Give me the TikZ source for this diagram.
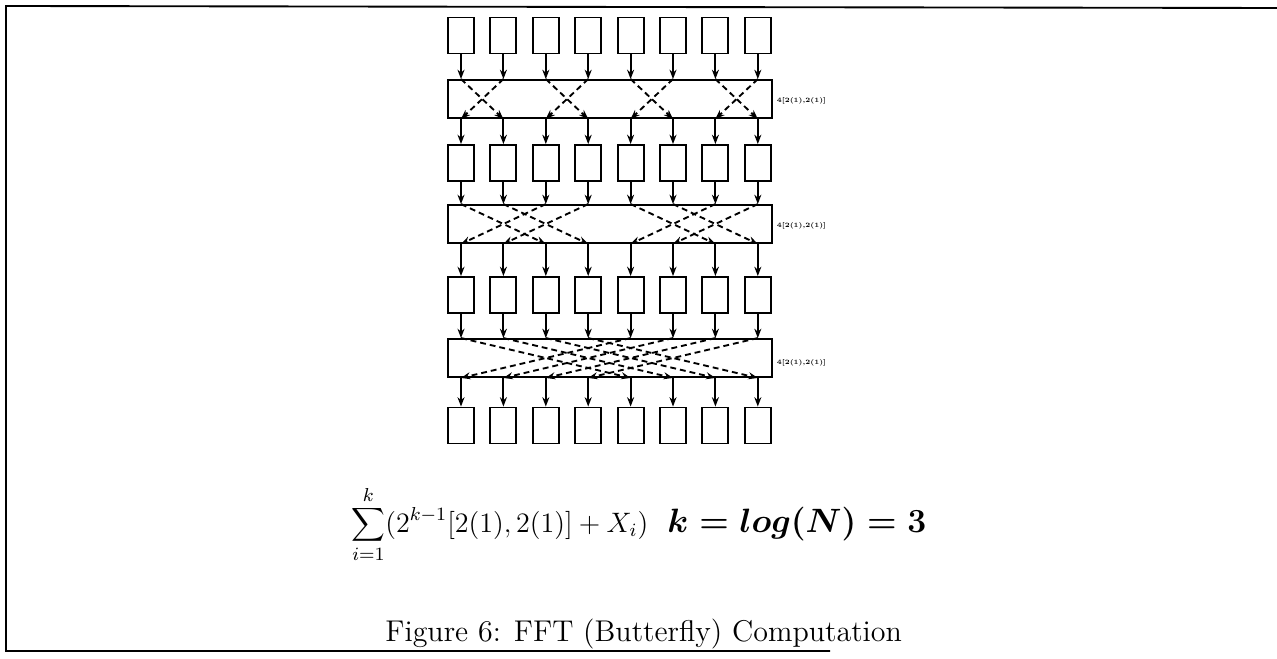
\documentclass[tikz,border=0pt]{standalone}
\usepackage{tikz}
\usetikzlibrary{arrows.meta, calc}

\begin{document}
\begin{tikzpicture}[
        x=0.015cm, y=-0.015cm,
        cell/.style={rectangle, draw, thick, minimum width=0.39cm, minimum height=0.54cm, inner sep=0pt},
        stage/.style={rectangle, draw, thick, minimum width=4.86cm, minimum height=0.57cm, inner sep=0pt},
        arrow/.style={-{Stealth[length=4pt, width=3pt]}, thick},
        cross/.style={-{Stealth[length=4pt, width=3pt]}, thick, dash pattern=on 2.5pt off 1.7pt},
        tag/.style={right, font=\fontsize{2.8}{3.2}\selectfont\bfseries, inner sep=1.5pt}
    ]
        \useasboundingbox (0,0) rectangle (1277,659);

        % Frame
        \draw[thick] (1277,8) -- (6,6) -- (6,651) -- (830,651);

        % Rows of boxes
        \foreach \r/\y in {0/35.5, 1/163, 2/295, 3/425.5} {
            \foreach \c in {0,...,7} {
                \node[cell] (b\r\c) at (461+42.4*\c, \y) {};
            }
        }

        % Butterfly stages
        \node[stage] (s1) at (610, 99) {};
        \node[stage] (s2) at (610, 224) {};
        \node[stage] (s3) at (610, 358) {};

        % Stage labels
        \node[tag, yshift=-1pt] (t1) at (s1.east) {4[2(1),2(1)]};
        \node[tag, yshift=-1pt] (t2) at (s2.east) {4[2(1),2(1)]};
        \node[tag, yshift=-2pt] (t3) at (s3.east) {4[2(1),2(1)]};

        % Connections
        \foreach \s/\a/\b in {1/0/1, 2/1/2, 3/2/3} {
            \foreach \c in {0,...,7} {
                \draw[arrow] (b\a\c) -- (s\s.north -| b\a\c);
                \draw[arrow] (s\s.south -| b\b\c) -- (b\b\c);
            }
        }

        % Crossings
        \foreach \p/\q in {0/1, 2/3, 4/5, 6/7} {
            \draw[cross] (s1.north -| b0\p) -- (s1.south -| b0\q);
            \draw[cross] (s1.north -| b0\q) -- (s1.south -| b0\p);
        }
        \foreach \p/\q in {0/2, 1/3, 4/6, 5/7} {
            \draw[cross] (s2.north -| b0\p) -- (s2.south -| b0\q);
            \draw[cross] (s2.north -| b0\q) -- (s2.south -| b0\p);
        }
        \foreach \p/\q in {0/4, 1/5, 2/6, 3/7} {
            \draw[cross] (s3.north -| b0\p) -- (s3.south -| b0\q);
            \draw[cross] (s3.north -| b0\q) -- (s3.south -| b0\p);
        }

        % Formula and caption
        \node[anchor=base west, inner sep=0pt, font=\fontsize{12}{14}\selectfont] (sum) at (351,532) {$\displaystyle\sum_{i=1}^{k}(2^{k-1}[2(1),2(1)]+X_i)$};
        \node[anchor=base west, inner sep=0pt, font=\fontsize{15.8}{18}\selectfont\boldmath] (logk) at (667,532) {$k = log(N) = 3$};
        \node[anchor=base west, inner sep=0pt, font=\fontsize{12.8}{15}\selectfont] (cap) at (385,641) {Figure 6: FFT (Butterfly) Computation};

    \end{tikzpicture}
\end{document}
